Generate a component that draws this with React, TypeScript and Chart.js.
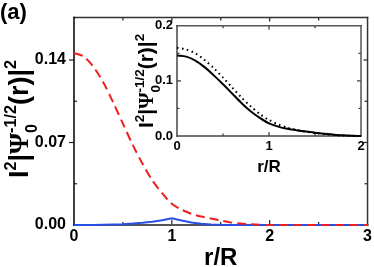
import React, { useEffect, useRef } from "react";
import { Chart, registerables } from "chart.js";
Chart.register(...registerables);

// ---------- data ----------
const rMain = [0, 0.1, 0.2, 0.3, 0.4, 0.5, 0.6, 0.7, 0.8, 0.9, 1.0, 1.1, 1.2, 1.3, 1.4, 1.5, 1.6, 1.7, 1.8, 1.9, 2.0, 2.1, 2.2, 2.3, 2.4, 2.5, 2.6, 2.7, 2.8, 2.9, 3.0];
const redCurve = [0.146, 0.143, 0.134, 0.121, 0.104, 0.086, 0.068, 0.052, 0.038, 0.027, 0.018, 0.013, 0.0095, 0.0072, 0.0055, 0.0038, 0.0022, 0.0012, 0.0006, 0.0002, 0, 0, 0, 0, 0, 0, 0, 0, 0, 0, 0];
const blueCurve = [0, 0, 0.0001, 0.0002, 0.0004, 0.0007, 0.0012, 0.0019, 0.0028, 0.004, 0.0057, 0.0038, 0.0022, 0.0011, 0.0005, 0.0002, 0.0001, 0, 0, 0, 0, 0, 0, 0, 0, 0, 0, 0, 0, 0, 0];
const rInset = [0, 0.1, 0.2, 0.3, 0.4, 0.5, 0.6, 0.7, 0.8, 0.9, 1.0, 1.1, 1.2, 1.3, 1.4, 1.5, 1.6, 1.7, 1.8, 1.9, 2.0];
const insetSolid = [0.146, 0.144, 0.137, 0.125, 0.11, 0.094, 0.077, 0.06, 0.045, 0.033, 0.023, 0.017, 0.013, 0.0105, 0.008, 0.006, 0.004, 0.0025, 0.0012, 0.0004, 0];
const insetDotted = [0.16, 0.157, 0.15, 0.138, 0.123, 0.106, 0.088, 0.07, 0.054, 0.04, 0.029, 0.021, 0.015, 0.011, 0.008, 0.0055, 0.0035, 0.002, 0.001, 0.0003, 0];

const mainXTicks = [0, 1, 2, 3];
const mainYTicks = [0, 0.07, 0.14];
const insetXTicks = [0, 1, 2];
const insetYTicks = [0, 0.1, 0.2];
const mainXTickLabels = ["0", "1", "2", "3"];
const mainYTickLabels = ["0.00", "0.07", "0.14"];
const insetXTickLabels = ["0", "1", "2"];
const insetYTickLabels = ["0.0", "0.1", "0.2"];

const panelLabel = "(a)";
const xTitle = "r/R";

const SANS = "'Liberation Sans', Arial, sans-serif";
const SERIF = "'Liberation Serif', 'Times New Roman', serif";

type Seg = { t: string; size: number; shift: number; serif?: boolean; advance?: boolean; weight?: string };

function yTitleSegs(s: number, supRatio: number): Seg[] {
  const sup = s * supRatio;
  return [
    { t: "I", size: s, shift: 0 },
    { t: "2", size: sup, shift: -s * 0.45 },
    { t: "|", size: s, shift: 0 },
    { t: "Ψ", size: s, shift: 0, serif: true, weight: "bold" },
    { t: "0", size: sup, shift: s * 0.32, advance: false },
    { t: "-1/2", size: sup, shift: -s * 0.45 },
    { t: "(r)|", size: s, shift: 0 },
    { t: "2", size: sup, shift: -s * 0.45 },
  ];
}

function drawRich(ctx: CanvasRenderingContext2D, segs: Seg[], cx: number, cy: number, rotate: boolean) {
  ctx.save();
  ctx.translate(cx, cy);
  if (rotate) ctx.rotate(-Math.PI / 2);
  ctx.fillStyle = "#000";
  ctx.textBaseline = "alphabetic";
  ctx.textAlign = "left";
  const fontOf = (g: Seg) => `${g.weight || "bold"} ${g.size}px ${g.serif ? SERIF : SANS}`;
  let total = 0;
  let pending = 0;
  for (const g of segs) {
    ctx.font = fontOf(g);
    const w = ctx.measureText(g.t).width;
    if (g.advance === false) pending = Math.max(pending, w);
    else { total += Math.max(w, pending); pending = 0; }
  }
  let pos = -total / 2;
  pending = 0;
  for (const g of segs) {
    ctx.font = fontOf(g);
    const w = ctx.measureText(g.t).width;
    ctx.fillText(g.t, pos, g.shift);
    if (g.advance === false) pending = Math.max(pending, w);
    else { pos += Math.max(w, pending); pending = 0; }
  }
  ctx.restore();
}

type TickSpec = { v: number; len: number };
type FrameOpts = {
  fill: boolean;
  bottom: TickSpec[]; top: TickSpec[]; left: TickSpec[]; right: TickSpec[];
  colors: { left: string; bottom: string; top: string; right: string };
  widths: { left: number; bottom: number; top: number; right: number };
  tickColor: string;
  extra?: (chart: any) => void;
};

function framePlugin(o: FrameOpts) {
  return {
    id: "frameTicks",
    beforeDatasetsDraw(chart: any) {
      const ctx: CanvasRenderingContext2D = chart.ctx;
      const a = chart.chartArea;
      const xs = chart.scales.x;
      const ys = chart.scales.y;
      ctx.save();
      if (o.fill) {
        ctx.fillStyle = "#fff";
        ctx.fillRect(a.left, a.top, a.right - a.left, a.bottom - a.top);
      }
      const line = (x1: number, y1: number, x2: number, y2: number, c: string, w: number) => {
        ctx.strokeStyle = c;
        ctx.lineWidth = w;
        ctx.beginPath();
        ctx.moveTo(x1, y1);
        ctx.lineTo(x2, y2);
        ctx.stroke();
      };
      ctx.lineCap = "butt";
      for (const t of o.bottom) { const p = xs.getPixelForValue(t.v); line(p, a.bottom, p, a.bottom - t.len, o.tickColor, 1.2); }
      for (const t of o.top) { const p = xs.getPixelForValue(t.v); line(p, a.top, p, a.top + t.len, o.tickColor, 1.2); }
      for (const t of o.left) { const p = ys.getPixelForValue(t.v); line(a.left, p, a.left + t.len, p, o.tickColor, 1.2); }
      for (const t of o.right) { const p = ys.getPixelForValue(t.v); line(a.right, p, a.right - t.len, p, o.tickColor, 1.2); }
      ctx.lineCap = "square";
      line(a.left, a.top, a.right, a.top, o.colors.top, o.widths.top);
      line(a.right, a.top, a.right, a.bottom, o.colors.right, o.widths.right);
      line(a.left, a.bottom, a.right, a.bottom, o.colors.bottom, o.widths.bottom);
      line(a.left, a.top, a.left, a.bottom, o.colors.left, o.widths.left);
      ctx.restore();
    },
    afterDraw(chart: any) {
      if (o.extra) o.extra(chart);
    },
  };
}

function pts(xs: number[], ys: number[]) {
  return xs.map((x, i) => ({ x, y: ys[i] }));
}

export default function App() {
  const mainRef = useRef<HTMLCanvasElement>(null);
  const insetRef = useRef<HTMLCanvasElement>(null);

  useEffect(() => {
    const mainCanvas = mainRef.current!;
    const insetCanvas = insetRef.current!;

    const mainChart = new Chart(mainCanvas, {
      type: "line",
      data: {
        datasets: [
          {
            data: pts(rMain, redCurve),
            borderColor: "#f01e1e",
            borderWidth: 2,
            borderDash: [9, 5],
            pointRadius: 0,
            tension: 0.3,
            clip: 6,
          } as any,
          {
            data: pts(rMain, blueCurve),
            borderColor: "rgb(40,80,230)",
            borderWidth: 2,
            pointRadius: 0,
            tension: 0,
            clip: 6,
          } as any,
        ],
      },
      options: {
        responsive: false,
        animation: false,
        events: [],
        layout: { padding: { left: 0, top: 7, right: 5, bottom: 0 } },
        plugins: { legend: { display: false }, tooltip: { enabled: false }, title: { display: false } },
        scales: {
          x: {
            type: "linear",
            min: 0,
            max: 3,
            grid: { display: false, drawTicks: false },
            border: { display: false },
            afterBuildTicks: (s: any) => { s.ticks = mainXTicks.map((v) => ({ value: v })); },
            afterFit: (s: any) => { s.height = 42; },
            ticks: {
              padding: 2,
              color: "#000",
              font: { family: SANS, size: 16, weight: "bold" },
              maxRotation: 0,
              autoSkip: false,
              callback: (v: any) => { const i = mainXTicks.indexOf(Number(v)); return i >= 0 ? mainXTickLabels[i] : ""; },
            },
          },
          y: {
            type: "linear",
            min: 0,
            max: 0.176,
            grid: { display: false, drawTicks: false },
            border: { display: false },
            afterBuildTicks: (s: any) => { s.ticks = mainYTicks.map((v) => ({ value: v })); },
            afterFit: (s: any) => { s.width = 74; },
            ticks: {
              padding: 8,
              color: "#000",
              font: { family: SANS, size: 16, weight: "bold" },
              autoSkip: false,
              callback: (v: any) => { const i = mainYTicks.indexOf(Number(v)); return i >= 0 ? mainYTickLabels[i] : ""; },
            },
          },
        },
      } as any,
      plugins: [
        framePlugin({
          fill: false,
          bottom: [{ v: 0.5, len: 3 }, { v: 1, len: 5 }, { v: 1.5, len: 3 }, { v: 2, len: 5 }, { v: 2.5, len: 3 }],
          top: [{ v: 0.5, len: 3 }, { v: 1, len: 4 }, { v: 1.5, len: 3 }, { v: 2, len: 4 }, { v: 2.5, len: 3 }],
          left: [{ v: 0.035, len: 3 }, { v: 0.07, len: -5 }, { v: 0.105, len: 3 }, { v: 0.14, len: -5 }],
          right: [{ v: 0.035, len: 3 }, { v: 0.07, len: 4 }, { v: 0.105, len: 3 }, { v: 0.14, len: 4 }],
          colors: { left: "#000", bottom: "#555", top: "#333", right: "#333" },
          widths: { left: 1.5, bottom: 2, top: 1.5, right: 1.5 },
          tickColor: "#222",
          extra: (chart: any) => {
            const ctx: CanvasRenderingContext2D = chart.ctx;
            const a = chart.chartArea;
            ctx.save();
            ctx.fillStyle = "#000";
            ctx.font = `bold 22px ${SANS}`;
            ctx.textAlign = "left";
            ctx.textBaseline = "alphabetic";
            ctx.fillText(panelLabel, 0, 19);
            ctx.font = `bold 24px ${SANS}`;
            ctx.textAlign = "center";
            ctx.fillText(xTitle, (a.left + a.right) / 2, 265);
            ctx.restore();
            drawRich(ctx, yTitleSegs(27, 0.6), 28, 119, true);
          },
        }),
      ],
    });

    const insetChart = new Chart(insetCanvas, {
      type: "line",
      data: {
        datasets: [
          {
            data: pts(rInset, insetSolid),
            borderColor: "#000",
            borderWidth: 2,
            pointRadius: 0,
            tension: 0.3,
            clip: 4,
          } as any,
          {
            data: pts(rInset, insetDotted),
            borderColor: "#000",
            borderWidth: 2,
            borderDash: [1.6, 3.4],
            pointRadius: 0,
            tension: 0.3,
            clip: 4,
          } as any,
        ],
      },
      options: {
        responsive: false,
        animation: false,
        events: [],
        layout: { padding: { left: 0, top: 7, right: 9, bottom: 0 } },
        plugins: { legend: { display: false }, tooltip: { enabled: false }, title: { display: false } },
        scales: {
          x: {
            type: "linear",
            min: 0,
            max: 2,
            grid: { display: false, drawTicks: false },
            border: { display: false },
            afterBuildTicks: (s: any) => { s.ticks = insetXTicks.map((v) => ({ value: v })); },
            afterFit: (s: any) => { s.height = 48; },
            ticks: {
              padding: 3,
              color: "#000",
              font: { family: SANS, size: 13, weight: "bold" },
              maxRotation: 0,
              autoSkip: false,
              callback: (v: any) => { const i = insetXTicks.indexOf(Number(v)); return i >= 0 ? insetXTickLabels[i] : ""; },
            },
          },
          y: {
            type: "linear",
            min: 0,
            max: 0.2,
            grid: { display: false, drawTicks: false },
            border: { display: false },
            afterBuildTicks: (s: any) => { s.ticks = insetYTicks.map((v) => ({ value: v })); },
            afterFit: (s: any) => { s.width = 57; },
            ticks: {
              padding: 4,
              color: "#000",
              font: { family: SANS, size: 13, weight: "bold" },
              autoSkip: false,
              callback: (v: any) => { const i = insetYTicks.indexOf(Number(v)); return i >= 0 ? insetYTickLabels[i] : ""; },
            },
          },
        },
      } as any,
      plugins: [
        framePlugin({
          fill: true,
          bottom: [{ v: 0.5, len: 2.5 }, { v: 1, len: 4 }, { v: 1.5, len: 2.5 }],
          top: [{ v: 0.5, len: 2.5 }, { v: 1, len: 4 }, { v: 1.5, len: 2.5 }],
          left: [{ v: 0.05, len: 2.5 }, { v: 0.1, len: 4 }, { v: 0.15, len: 2.5 }],
          right: [{ v: 0.05, len: 2.5 }, { v: 0.1, len: 4 }, { v: 0.15, len: 2.5 }],
          colors: { left: "#444", bottom: "#444", top: "#555", right: "#555" },
          widths: { left: 1.5, bottom: 1.5, top: 1.5, right: 1.5 },
          tickColor: "#333",
          extra: (chart: any) => {
            const ctx: CanvasRenderingContext2D = chart.ctx;
            const a = chart.chartArea;
            ctx.save();
            ctx.fillStyle = "#000";
            ctx.font = `bold 17px ${SANS}`;
            ctx.textAlign = "center";
            ctx.textBaseline = "alphabetic";
            ctx.fillText(xTitle, (a.left + a.right) / 2, 158);
            ctx.restore();
            drawRich(ctx, yTitleSegs(21, 0.64), 33, (a.top + a.bottom) / 2, true);
          },
        }),
      ],
    });

    return () => {
      mainChart.destroy();
      insetChart.destroy();
    };
  }, []);

  return (
    <div style={{ position: "fixed", left: 0, top: 0, width: 374, height: 267, background: "#fff", overflow: "hidden" }}>
      <canvas ref={mainRef} width={374} height={267} style={{ position: "absolute", left: 0, top: 0, width: 374, height: 267 }} />
      <canvas ref={insetRef} width={250} height={170} style={{ position: "absolute", left: 120, top: 14, width: 250, height: 170 }} />
    </div>
  );
}
